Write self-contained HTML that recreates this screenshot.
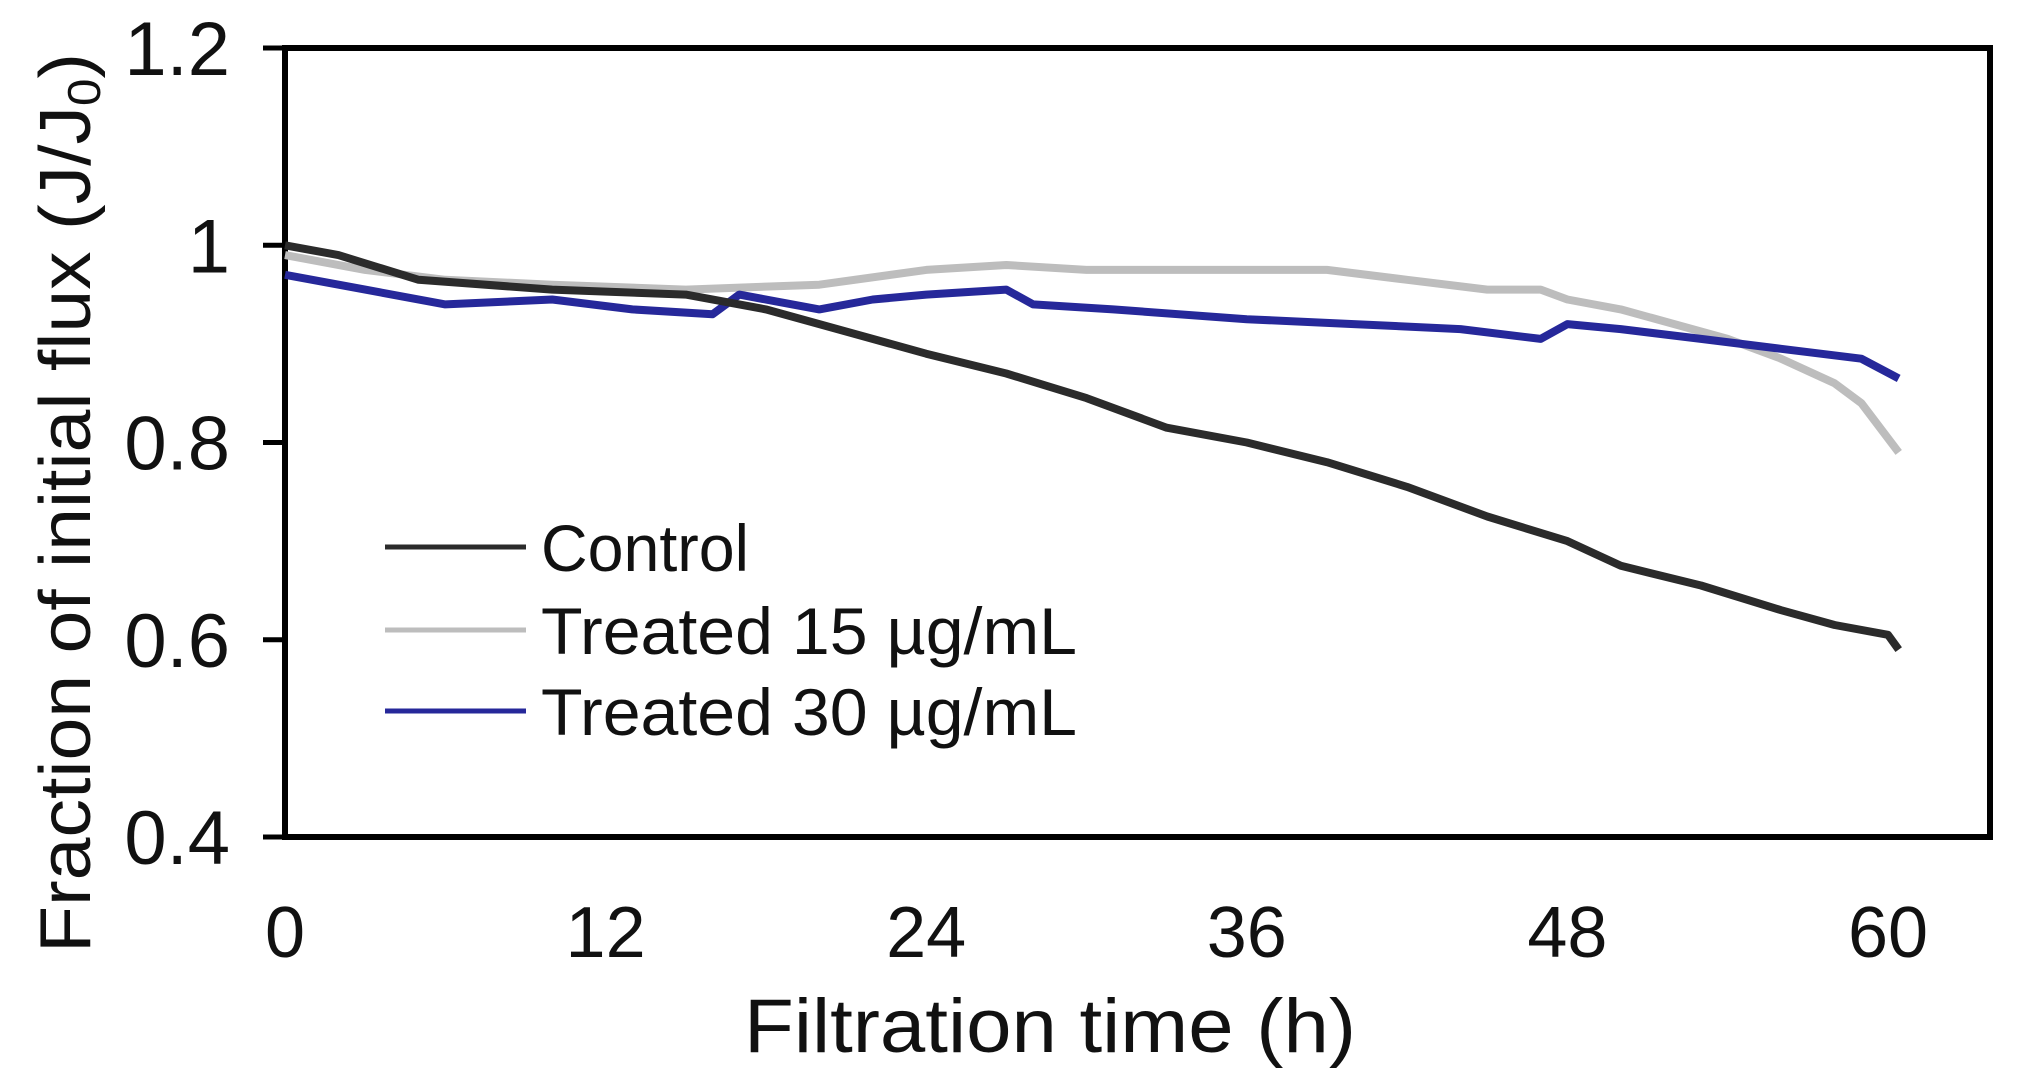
<!DOCTYPE html>
<html><head><meta charset="utf-8"><style>
html,body{margin:0;padding:0;background:#fff;}
svg{display:block;font-family:"Liberation Sans",Arial,sans-serif;}
</style></head><body>
<svg id="chart" width="2025" height="1079" viewBox="0 0 2025 1079" xmlns="http://www.w3.org/2000/svg">
<g id="axes"></g>
<g id="series"></g>
<g id="legend"></g>
</svg>
<script>
const xTicks = [0, 12, 24, 36, 48, 60];
const yTicks = [0.4, 0.6, 0.8, 1.0, 1.2];
const yTickLabels = ["0.4", "0.6", "0.8", "1", "1.2"];
const seriesNames = ["Control", "Treated 15 µg/mL", "Treated 30 µg/mL"];
const seriesColors = ["#2b2b2b", "#bdbdbd", "#26289a"];
const controlT = [0, 2, 5, 10, 15, 18, 20, 24, 27, 30, 33, 36, 39, 42, 45, 48, 50, 53, 56, 58, 60, 60.4];
const controlV = [1.0, 0.99, 0.965, 0.955, 0.95, 0.935, 0.92, 0.89, 0.87, 0.845, 0.815, 0.8, 0.78, 0.755, 0.725, 0.70, 0.675, 0.655, 0.63, 0.615, 0.605, 0.59];
const t15T = [0, 3, 6, 10, 15, 20, 24, 27, 30, 33, 36, 39, 42, 45, 47, 48, 50, 52, 54, 56, 58, 59, 60.4];
const t15V = [0.99, 0.975, 0.965, 0.96, 0.955, 0.96, 0.975, 0.98, 0.975, 0.975, 0.975, 0.975, 0.965, 0.955, 0.955, 0.945, 0.935, 0.92, 0.905, 0.885, 0.86, 0.84, 0.79];
const t30T = [0, 3, 6, 10, 13, 16, 17, 20, 22, 24, 27, 28, 31, 36, 40, 44, 47, 48, 50, 53, 56, 59, 60.4];
const t30V = [0.97, 0.955, 0.94, 0.945, 0.935, 0.93, 0.95, 0.935, 0.945, 0.95, 0.955, 0.94, 0.935, 0.925, 0.92, 0.915, 0.905, 0.92, 0.915, 0.905, 0.895, 0.885, 0.865];

const NS = "http://www.w3.org/2000/svg";
const L = 285, R = 1990, T = 48, B = 837;
const xMax = 60 * (R - L) / (1888 - L);
function xs(v){ return L + v / xMax * (R - L); }
function ys(v){ return B - (v - 0.4) / 0.8 * (B - T); }
function mk(tag, attrs, parent){ const e = document.createElementNS(NS, tag); for (const k in attrs) e.setAttribute(k, attrs[k]); parent.appendChild(e); return e; }

const axes = document.getElementById('axes');
const box = mk('rect', {x:L, y:T, width:R-L, height:B-T, fill:'none', stroke:'#000', 'stroke-width':6}, axes);


yTicks.forEach((v, i) => {
  const tk = mk('line', {x1:263, x2:L, y1:ys(v), y2:ys(v), stroke:'#000', 'stroke-width':5}, axes);
  
  
  const t = mk('text', {x:230, y:ys(v)+27, 'text-anchor':'end', 'font-size':76, fill:'#111'}, axes);
  t.textContent = yTickLabels[i];
  
  
});
xTicks.forEach(v => {
  const t = mk('text', {x:xs(v), y:957, 'text-anchor':'middle', 'font-size':72, fill:'#111'}, axes);
  t.textContent = String(v);
  
  
});
const xt = mk('text', {x:1050, y:1052, 'text-anchor':'middle', 'font-size':76, fill:'#111', textLength:612, lengthAdjust:'spacingAndGlyphs'}, axes);
xt.textContent = 'Filtration time (h)';


const yt = mk('text', {x:0, y:0, 'text-anchor':'middle', 'font-size':72, fill:'#111', transform:'translate(90,503) rotate(-90)', textLength:900, lengthAdjust:'spacingAndGlyphs'}, axes);
yt.innerHTML = 'Fraction of initial flux (J/J<tspan font-size="46" dy="10">0</tspan><tspan dy="-10">)</tspan>';



const ser = document.getElementById('series');
const allT = [controlT, t15T, t30T], allV = [controlV, t15V, t30V];
const order = [1, 2, 0];
order.forEach(k => {
  const pts = allT[k].map((t, i) => xs(t).toFixed(1) + ',' + ys(allV[k][i]).toFixed(1)).join(' ');
  const pl = mk('polyline', {points:pts, fill:'none', stroke:seriesColors[k], 'stroke-width':8, 'stroke-linejoin':'round'}, ser);
  
  
});

const leg = document.getElementById('legend');
const legY = [547, 630, 711];
const legW = [208, 536, 536];
seriesNames.forEach((n, i) => {
  const ln = mk('line', {x1:385, x2:526, y1:legY[i], y2:legY[i], stroke:seriesColors[i], 'stroke-width':5}, leg);
  
  
  const t = mk('text', {x:541, y:legY[i]+24, 'font-size':66, fill:'#111', textLength:legW[i], lengthAdjust:'spacingAndGlyphs'}, leg);
  t.textContent = n;
  
  
});
</script>
</body></html>
